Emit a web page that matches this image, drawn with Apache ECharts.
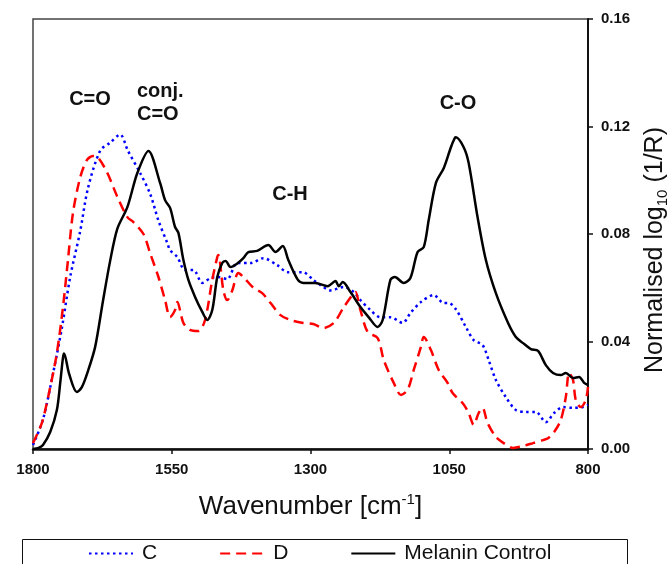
<!DOCTYPE html>
<html>
<head>
<meta charset="utf-8">
<script src="https://cdn.jsdelivr.net/npm/echarts@6/dist/echarts.min.js"></script>
<style>
  html, body { margin: 0; padding: 0; background: #fff; }
  #chart { width: 670px; height: 564px; }
</style>
</head>
<body>
<div id="chart"></div>
<script>
// ---- data (wavenumber in cm-1, normalised log10(1/R)) ----
const xTicks = [1800, 1550, 1300, 1050, 800];
const yTicks = [0.00, 0.04, 0.08, 0.12, 0.16];

const cWave = [1800, 1782, 1764, 1748, 1733, 1715, 1701, 1679, 1661, 1643, 1629, 1607, 1589, 1574, 1558, 1553, 1540, 1526, 1511, 1495, 1480, 1466, 1450, 1432, 1408, 1385, 1360, 1341, 1314, 1295, 1282, 1264, 1240, 1222, 1210, 1192, 1174, 1156, 1134, 1120, 1101, 1078, 1060, 1051, 1038, 1020, 1006, 990, 979, 966, 948, 930, 912, 894, 876, 861, 845, 827, 809, 800];
const cVal  = [0.0015, 0.011, 0.028, 0.045, 0.064, 0.081, 0.097, 0.111, 0.114, 0.117, 0.111, 0.1027, 0.095, 0.085, 0.0766, 0.074, 0.0714, 0.0666, 0.0666, 0.0618, 0.0636, 0.064, 0.0632, 0.0692, 0.0692, 0.071, 0.0684, 0.0658, 0.0658, 0.0629, 0.061, 0.059, 0.0603, 0.0584, 0.0554, 0.0517, 0.049, 0.049, 0.0469, 0.0506, 0.0547, 0.0573, 0.0543, 0.0543, 0.052, 0.0454, 0.0405, 0.0387, 0.0331, 0.0257, 0.0193, 0.0145, 0.0138, 0.0138, 0.010, 0.0134, 0.0156, 0.0153, 0.0156, 0.0164];

const dWave = [1800, 1784, 1769, 1757, 1746, 1737, 1728, 1715, 1703, 1692, 1684, 1666, 1648, 1630, 1619, 1601, 1589, 1574, 1562, 1553, 1544, 1540, 1529, 1517, 1502, 1490, 1477, 1468, 1466, 1457, 1450, 1441, 1430, 1421, 1403, 1387, 1372, 1354, 1336, 1313, 1295, 1277, 1258, 1240, 1222, 1219, 1210, 1197, 1179, 1168, 1150, 1137, 1125, 1114, 1101, 1096, 1083, 1069, 1053, 1044, 1026, 1015, 1006, 997, 990, 981, 966, 952, 935, 917, 899, 881, 872, 861, 849, 840, 834, 827, 822, 813, 804, 800];
const dVal  = [0.0022, 0.0097, 0.023, 0.0357, 0.0528, 0.0703, 0.0878, 0.101, 0.1075, 0.109, 0.1087, 0.1027, 0.0938, 0.0863, 0.0844, 0.080, 0.0729, 0.064, 0.0554, 0.0491, 0.0517, 0.0547, 0.0469, 0.0443, 0.0439, 0.048, 0.0629, 0.0714, 0.0722, 0.059, 0.0554, 0.059, 0.0655, 0.064, 0.060, 0.058, 0.0543, 0.0498, 0.048, 0.0469, 0.0465, 0.045, 0.0469, 0.0528, 0.058, 0.0584, 0.0517, 0.0435, 0.0413, 0.0331, 0.0246, 0.0201, 0.022, 0.0294, 0.038, 0.0417, 0.0368, 0.0294, 0.0246, 0.0208, 0.0171, 0.0134, 0.009, 0.0134, 0.0153, 0.0097, 0.0045, 0.0022, 0.0004, 0.0011, 0.0022, 0.0033, 0.004, 0.0063, 0.0108, 0.0193, 0.0283, 0.0257, 0.0182, 0.0156, 0.0182, 0.0231];

const mWave = [1800, 1790, 1782, 1769, 1757, 1751, 1746, 1744, 1735, 1721, 1712, 1701, 1688, 1674, 1661, 1648, 1630, 1612, 1592, 1571, 1562, 1553, 1544, 1538, 1529, 1520, 1508, 1495, 1486, 1477, 1468, 1459, 1453, 1444, 1432, 1421, 1412, 1396, 1376, 1363, 1350, 1340, 1323, 1313, 1291, 1269, 1255, 1249, 1242, 1228, 1210, 1195, 1179, 1170, 1156, 1148, 1132, 1120, 1107, 1096, 1087, 1074, 1060, 1047, 1040, 1038, 1024, 1015, 999, 984, 966, 944, 930, 917, 903, 890, 876, 863, 849, 840, 827, 816, 807, 800];
const mVal  = [0, 0.0004, 0.0015, 0.0063, 0.0145, 0.0245, 0.034, 0.0355, 0.028, 0.0212, 0.023, 0.029, 0.038, 0.055, 0.070, 0.082, 0.090, 0.1027, 0.1109, 0.099, 0.0926, 0.0897, 0.0826, 0.0804, 0.0703, 0.0629, 0.0566, 0.051, 0.048, 0.0517, 0.064, 0.0692, 0.070, 0.0677, 0.069, 0.071, 0.0733, 0.0737, 0.0759, 0.0733, 0.0755, 0.0703, 0.063, 0.0618, 0.0618, 0.0606, 0.0625, 0.0606, 0.0621, 0.0584, 0.0528, 0.049, 0.0454, 0.048, 0.0629, 0.064, 0.0618, 0.0636, 0.0733, 0.0751, 0.0852, 0.099, 0.1045, 0.1123, 0.1157, 0.116, 0.1123, 0.1064, 0.0863, 0.0703, 0.058, 0.0469, 0.0417, 0.0394, 0.0372, 0.0365, 0.0312, 0.0283, 0.0275, 0.0283, 0.0264, 0.0268, 0.0246, 0.0238];

const seriesNames = ['C', 'D', 'Melanin Control'];
const pairs = (xs, ys) => xs.map((x, i) => [x, ys[i]]);

const FONT = '"Liberation Sans", Arial, sans-serif';

const chart = echarts.init(document.getElementById('chart'), null, { renderer: 'canvas' });

chart.setOption({
  animation: false,
  backgroundColor: '#fff',
  grid: {
    left: 33, right: 82, top: 19, bottom: 115,
    containLabel: false, outerBoundsMode: 'none',
    show: true, borderColor: '#444', borderWidth: 1.5, backgroundColor: 'transparent'
  },
  xAxis: {
    type: 'value', min: 800, max: 1800, inverse: true,
    name: '{a|Wavenumber [cm}{sup|-1}{a|]}',
    nameLocation: 'middle', nameGap: 43,
    nameTextStyle: {
      rich: {
        a: { fontFamily: FONT, fontSize: 26, color: '#111', lineHeight: 30 },
        sup: { fontFamily: FONT, fontSize: 15, color: '#111', verticalAlign: 'top', lineHeight: 15 }
      }
    },
    axisLine: { show: true, onZero: false, lineStyle: { color: '#111', width: 2.5 } },
    axisTick: { show: true, inside: false, length: 5, customValues: xTicks, lineStyle: { color: '#111', width: 1.5 } },
    axisLabel: { customValues: xTicks, margin: 13, fontFamily: FONT, fontSize: 15, fontWeight: 'bold', color: '#111',
      formatter: v => String(Math.round(v)) },
    splitLine: { show: false }
  },
  yAxis: {
    type: 'value', position: 'right', min: 0, max: 0.16, interval: 0.04,
    name: '{a|Normalised log}{sub|10}{a| (1/R)}',
    nameLocation: 'middle', nameGap: 52, nameRotate: 90,
    nameTextStyle: {
      padding: [0, 32, 0, 0],
      rich: {
        a: { fontFamily: FONT, fontSize: 25, color: '#111', lineHeight: 30 },
        sub: { fontFamily: FONT, fontSize: 15, color: '#111', verticalAlign: 'bottom', lineHeight: 15 }
      }
    },
    axisLine: { show: true, onZero: false, lineStyle: { color: '#111', width: 2 } },
    axisTick: { show: true, inside: false, length: 5, lineStyle: { color: '#111', width: 1.5 } },
    axisLabel: {
      margin: 13, fontFamily: FONT, fontSize: 15, fontWeight: 'bold', color: '#111',
      formatter: v => { const t = yTicks.find(k => Math.abs(k - v) < 1e-9); return (t !== undefined ? t : v).toFixed(2); }
    },
    splitLine: { show: false }
  },
  legend: {
    data: seriesNames,
    left: 88, top: 543,
    itemWidth: 44, itemHeight: 14, itemGap: 62,
    itemStyle: { opacity: 0, borderWidth: 0 },
    textStyle: { fontFamily: FONT, fontSize: 21, color: '#111', padding: [0, 0, 0, 4] },
    padding: 0
  },
  graphic: [
    { type: 'rect', shape: { x: 22.5, y: 539.5, width: 605, height: 40 }, style: { fill: 'none', stroke: '#111', lineWidth: 1 }, silent: true, z: 0 },
    { type: 'text', x: 90, y: 99, style: { text: 'C=O', font: 'bold 20px ' + FONT, fill: '#111', textAlign: 'center', textVerticalAlign: 'middle' } },
    { type: 'text', x: 137, y: 91, style: { text: 'conj.', font: 'bold 20px ' + FONT, fill: '#111', textAlign: 'left', textVerticalAlign: 'middle' } },
    { type: 'text', x: 137, y: 114, style: { text: 'C=O', font: 'bold 20px ' + FONT, fill: '#111', textAlign: 'left', textVerticalAlign: 'middle' } },
    { type: 'text', x: 290, y: 194, style: { text: 'C-H', font: 'bold 20px ' + FONT, fill: '#111', textAlign: 'center', textVerticalAlign: 'middle' } },
    { type: 'text', x: 458, y: 103, style: { text: 'C-O', font: 'bold 20px ' + FONT, fill: '#111', textAlign: 'center', textVerticalAlign: 'middle' } }
  ],
  series: [
    {
      name: seriesNames[0], type: 'line', data: pairs(cWave, cVal),
      symbol: 'none', smooth: 0.3, clip: true,
      lineStyle: { color: '#0000ff', width: 2.5, type: [2.5, 3.5] },
      itemStyle: { color: '#0000ff' }, z: 3
    },
    {
      name: seriesNames[1], type: 'line', data: pairs(dWave, dVal),
      symbol: 'none', smooth: 0.3, clip: true,
      lineStyle: { color: '#ff0000', width: 2.5, type: [10, 6] },
      itemStyle: { color: '#ff0000' }, z: 4
    },
    {
      name: seriesNames[2], type: 'line', data: pairs(mWave, mVal),
      symbol: 'none', smooth: 0.3, clip: true,
      lineStyle: { color: '#000000', width: 2.5, type: 'solid' },
      itemStyle: { color: '#000000' }, z: 5
    }
  ]
});
</script>
</body>
</html>
